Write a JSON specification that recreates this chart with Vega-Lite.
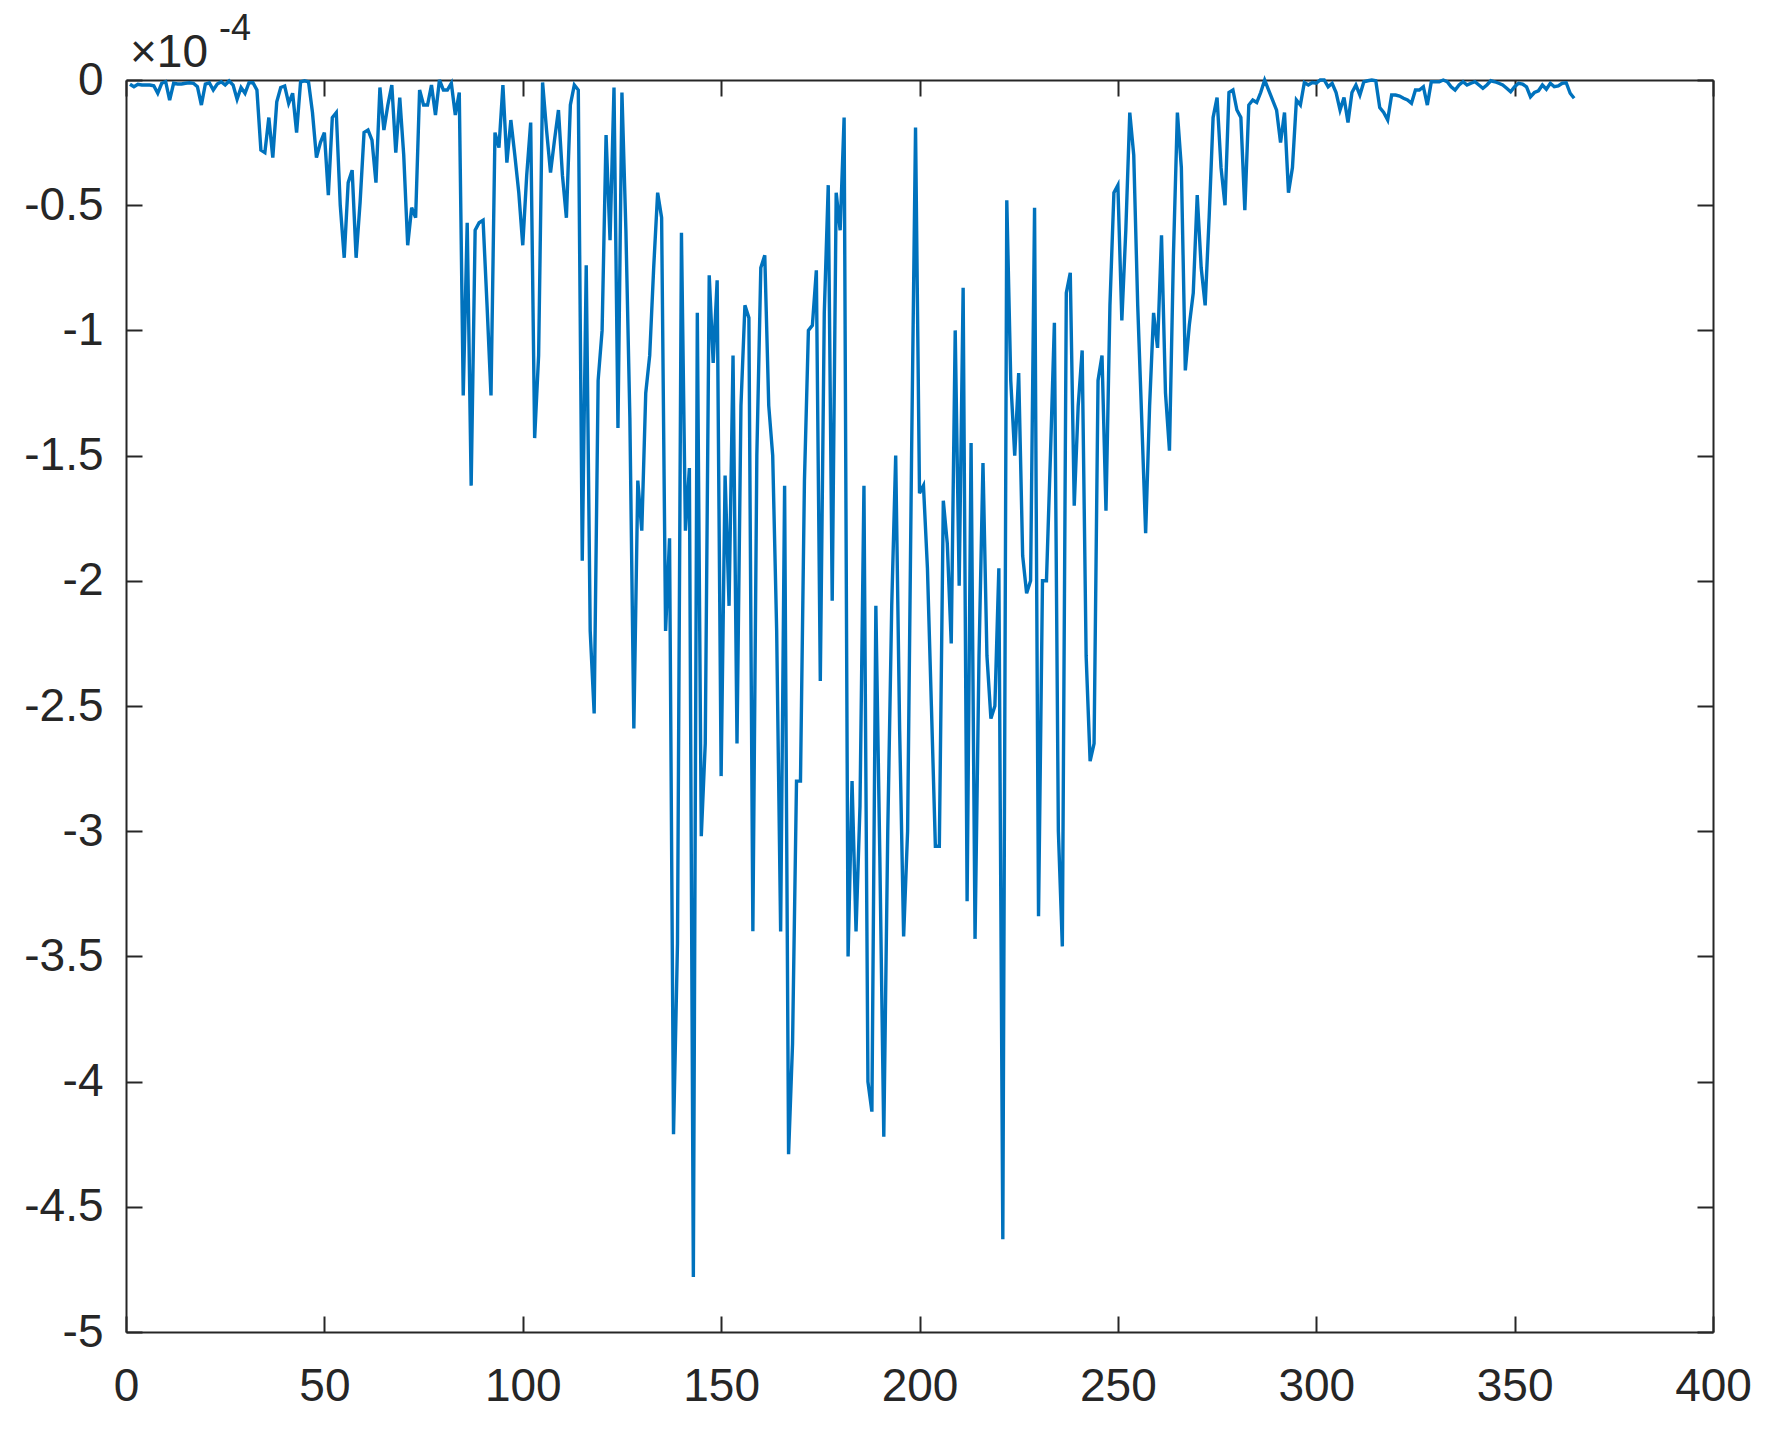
{
  "$schema": "https://vega.github.io/schema/vega-lite/v6.json",
  "width": 1587,
  "height": 1252,
  "autosize": "none",
  "padding": {"left": 126, "top": 80, "right": 61, "bottom": 101},
  "background": "white",
  "config": {
    "view": {"stroke": null},
    "axis": {
      "domainColor": "#262626", "domainWidth": 2,
      "tickColor": "#262626", "tickWidth": 2, "tickSize": -16,
      "labelFont": "Liberation Sans", "labelFontSize": 46, "labelColor": "#262626",
      "labelFlush": false, "labelOverlap": false,
      "labelExpr": "toString(datum.value)",
      "grid": false, "title": null
    }
  },
  "datasets": {
    "series": [
      {"x":1,"y":-0.017},{"x":2,"y":-0.027},{"x":3,"y":-0.017},{"x":4,"y":-0.02},{"x":5,"y":-0.02},
      {"x":6,"y":-0.02},{"x":7,"y":-0.023},{"x":8,"y":-0.053},{"x":9,"y":-0.013},{"x":10,"y":-0.007},
      {"x":11,"y":-0.08},{"x":12,"y":-0.013},{"x":13,"y":-0.016},{"x":14,"y":-0.016},{"x":15,"y":-0.013},
      {"x":16,"y":-0.011},{"x":17,"y":-0.013},{"x":18,"y":-0.027},{"x":19,"y":-0.1},{"x":20,"y":-0.016},
      {"x":21,"y":-0.011},{"x":22,"y":-0.04},{"x":23,"y":-0.016},{"x":24,"y":-0.007},{"x":25,"y":-0.02},
      {"x":26,"y":-0.004},{"x":27,"y":-0.02},{"x":28,"y":-0.077},{"x":29,"y":-0.03},{"x":30,"y":-0.053},
      {"x":31,"y":-0.011},{"x":32,"y":-0.011},{"x":33,"y":-0.04},{"x":34,"y":-0.28},{"x":35,"y":-0.29},
      {"x":36,"y":-0.15},{"x":37,"y":-0.31},{"x":38,"y":-0.087},{"x":39,"y":-0.03},{"x":40,"y":-0.024},
      {"x":41,"y":-0.093},{"x":42,"y":-0.053},{"x":43,"y":-0.21},{"x":44,"y":-0.007},{"x":45,"y":-0.003},
      {"x":46,"y":-0.007},{"x":47,"y":-0.13},{"x":48,"y":-0.31},{"x":49,"y":-0.25},{"x":50,"y":-0.21},
      {"x":51,"y":-0.46},{"x":52,"y":-0.15},{"x":53,"y":-0.13},{"x":54,"y":-0.5},{"x":55,"y":-0.71},
      {"x":56,"y":-0.41},{"x":57,"y":-0.36},{"x":58,"y":-0.71},{"x":59,"y":-0.49},{"x":60,"y":-0.21},
      {"x":61,"y":-0.2},{"x":62,"y":-0.24},{"x":63,"y":-0.41},{"x":64,"y":-0.03},{"x":65,"y":-0.2},
      {"x":66,"y":-0.1},{"x":67,"y":-0.02},{"x":68,"y":-0.29},{"x":69,"y":-0.07},{"x":70,"y":-0.3},
      {"x":71,"y":-0.66},{"x":72,"y":-0.51},{"x":73,"y":-0.55},{"x":74,"y":-0.04},{"x":75,"y":-0.1},
      {"x":76,"y":-0.1},{"x":77,"y":-0.02},{"x":78,"y":-0.14},{"x":79,"y":0},{"x":80,"y":-0.04},
      {"x":81,"y":-0.04},{"x":82,"y":-0.013},{"x":83,"y":-0.14},{"x":84,"y":-0.05},{"x":85,"y":-1.26},
      {"x":86,"y":-0.57},{"x":87,"y":-1.62},{"x":88,"y":-0.6},{"x":89,"y":-0.57},{"x":90,"y":-0.56},
      {"x":91,"y":-0.9},{"x":92,"y":-1.26},{"x":93,"y":-0.21},{"x":94,"y":-0.27},{"x":95,"y":-0.02},
      {"x":96,"y":-0.33},{"x":97,"y":-0.16},{"x":98,"y":-0.3},{"x":99,"y":-0.45},{"x":100,"y":-0.66},
      {"x":101,"y":-0.38},{"x":102,"y":-0.17},{"x":103,"y":-1.43},{"x":104,"y":-1.1},{"x":105,"y":-0.01},
      {"x":106,"y":-0.2},{"x":107,"y":-0.37},{"x":108,"y":-0.24},{"x":109,"y":-0.12},{"x":110,"y":-0.38},
      {"x":111,"y":-0.55},{"x":112,"y":-0.1},{"x":113,"y":-0.02},{"x":114,"y":-0.04},{"x":115,"y":-1.92},
      {"x":116,"y":-0.74},{"x":117,"y":-2.2},{"x":118,"y":-2.53},{"x":119,"y":-1.2},{"x":120,"y":-1.0},
      {"x":121,"y":-0.22},{"x":122,"y":-0.64},{"x":123,"y":-0.03},{"x":124,"y":-1.39},{"x":125,"y":-0.05},
      {"x":126,"y":-0.6},{"x":127,"y":-1.35},{"x":128,"y":-2.59},{"x":129,"y":-1.6},{"x":130,"y":-1.8},
      {"x":131,"y":-1.25},{"x":132,"y":-1.1},{"x":133,"y":-0.75},{"x":134,"y":-0.45},{"x":135,"y":-0.55},
      {"x":136,"y":-2.2},{"x":137,"y":-1.83},{"x":138,"y":-4.21},{"x":139,"y":-3.45},{"x":140,"y":-0.61},
      {"x":141,"y":-1.8},{"x":142,"y":-1.55},{"x":143,"y":-4.78},{"x":144,"y":-0.93},{"x":145,"y":-3.02},
      {"x":146,"y":-2.65},{"x":147,"y":-0.78},{"x":148,"y":-1.13},{"x":149,"y":-0.8},{"x":150,"y":-2.78},
      {"x":151,"y":-1.58},{"x":152,"y":-2.1},{"x":153,"y":-1.1},{"x":154,"y":-2.65},{"x":155,"y":-1.3},
      {"x":156,"y":-0.9},{"x":157,"y":-0.95},{"x":158,"y":-3.4},{"x":159,"y":-1.5},{"x":160,"y":-0.75},
      {"x":161,"y":-0.7},{"x":162,"y":-1.3},{"x":163,"y":-1.5},{"x":164,"y":-2.2},{"x":165,"y":-3.4},
      {"x":166,"y":-1.62},{"x":167,"y":-4.29},{"x":168,"y":-3.85},{"x":169,"y":-2.8},{"x":170,"y":-2.8},
      {"x":171,"y":-1.6},{"x":172,"y":-1.0},{"x":173,"y":-0.98},{"x":174,"y":-0.76},{"x":175,"y":-2.4},
      {"x":176,"y":-0.93},{"x":177,"y":-0.42},{"x":178,"y":-2.08},{"x":179,"y":-0.45},{"x":180,"y":-0.6},
      {"x":181,"y":-0.15},{"x":182,"y":-3.5},{"x":183,"y":-2.8},{"x":184,"y":-3.4},{"x":185,"y":-2.9},
      {"x":186,"y":-1.62},{"x":187,"y":-4.0},{"x":188,"y":-4.12},{"x":189,"y":-2.1},{"x":190,"y":-3.1},
      {"x":191,"y":-4.22},{"x":192,"y":-3.0},{"x":193,"y":-2.1},{"x":194,"y":-1.5},{"x":195,"y":-2.6},
      {"x":196,"y":-3.42},{"x":197,"y":-3.0},{"x":198,"y":-1.5},{"x":199,"y":-0.19},{"x":200,"y":-1.65},
      {"x":201,"y":-1.62},{"x":202,"y":-1.95},{"x":203,"y":-2.5},{"x":204,"y":-3.06},{"x":205,"y":-3.06},
      {"x":206,"y":-1.68},{"x":207,"y":-1.85},{"x":208,"y":-2.25},{"x":209,"y":-1.0},{"x":210,"y":-2.02},
      {"x":211,"y":-0.83},{"x":212,"y":-3.28},{"x":213,"y":-1.45},{"x":214,"y":-3.43},{"x":215,"y":-2.3},
      {"x":216,"y":-1.53},{"x":217,"y":-2.3},{"x":218,"y":-2.55},{"x":219,"y":-2.5},{"x":220,"y":-1.95},
      {"x":221,"y":-4.63},{"x":222,"y":-0.48},{"x":223,"y":-1.2},{"x":224,"y":-1.5},{"x":225,"y":-1.17},
      {"x":226,"y":-1.9},{"x":227,"y":-2.05},{"x":228,"y":-2.0},{"x":229,"y":-0.51},{"x":230,"y":-3.34},
      {"x":231,"y":-2.0},{"x":232,"y":-2.0},{"x":233,"y":-1.5},{"x":234,"y":-0.97},{"x":235,"y":-3.0},
      {"x":236,"y":-3.46},{"x":237,"y":-0.85},{"x":238,"y":-0.77},{"x":239,"y":-1.7},{"x":240,"y":-1.3},
      {"x":241,"y":-1.08},{"x":242,"y":-2.3},{"x":243,"y":-2.72},{"x":244,"y":-2.65},{"x":245,"y":-1.2},
      {"x":246,"y":-1.1},{"x":247,"y":-1.72},{"x":248,"y":-0.9},{"x":249,"y":-0.45},{"x":250,"y":-0.42},
      {"x":251,"y":-0.96},{"x":252,"y":-0.6},{"x":253,"y":-0.13},{"x":254,"y":-0.3},{"x":255,"y":-0.9},
      {"x":256,"y":-1.35},{"x":257,"y":-1.81},{"x":258,"y":-1.3},{"x":259,"y":-0.93},{"x":260,"y":-1.07},
      {"x":261,"y":-0.62},{"x":262,"y":-1.25},{"x":263,"y":-1.48},{"x":264,"y":-0.7},{"x":265,"y":-0.13},
      {"x":266,"y":-0.35},{"x":267,"y":-1.16},{"x":268,"y":-0.98},{"x":269,"y":-0.85},{"x":270,"y":-0.46},
      {"x":271,"y":-0.75},{"x":272,"y":-0.9},{"x":273,"y":-0.55},{"x":274,"y":-0.15},{"x":275,"y":-0.07},
      {"x":276,"y":-0.35},{"x":277,"y":-0.5},{"x":278,"y":-0.05},{"x":279,"y":-0.04},{"x":280,"y":-0.12},
      {"x":281,"y":-0.15},{"x":282,"y":-0.52},{"x":283,"y":-0.1},{"x":284,"y":-0.08},{"x":285,"y":-0.09},
      {"x":286,"y":-0.05},{"x":287,"y":0},{"x":288,"y":-0.04},{"x":289,"y":-0.08},{"x":290,"y":-0.12},
      {"x":291,"y":-0.25},{"x":292,"y":-0.13},{"x":293,"y":-0.45},{"x":294,"y":-0.35},{"x":295,"y":-0.08},
      {"x":296,"y":-0.1},{"x":297,"y":-0.01},{"x":298,"y":-0.02},{"x":299,"y":-0.01},{"x":300,"y":-0.013},
      {"x":301,"y":0},{"x":302,"y":0},{"x":303,"y":-0.027},{"x":304,"y":-0.013},{"x":305,"y":-0.05},
      {"x":306,"y":-0.12},{"x":307,"y":-0.07},{"x":308,"y":-0.17},{"x":309,"y":-0.05},{"x":310,"y":-0.02},
      {"x":311,"y":-0.06},{"x":312,"y":-0.007},{"x":313,"y":-0.003},{"x":314,"y":0},{"x":315,"y":-0.003},
      {"x":316,"y":-0.11},{"x":317,"y":-0.13},{"x":318,"y":-0.16},{"x":319,"y":-0.06},{"x":320,"y":-0.06},
      {"x":321,"y":-0.064},{"x":322,"y":-0.073},{"x":323,"y":-0.08},{"x":324,"y":-0.093},{"x":325,"y":-0.04},
      {"x":326,"y":-0.04},{"x":327,"y":-0.027},{"x":328,"y":-0.1},{"x":329,"y":-0.007},{"x":330,"y":-0.007},
      {"x":331,"y":-0.007},{"x":332,"y":0},{"x":333,"y":-0.007},{"x":334,"y":-0.027},{"x":335,"y":-0.04},
      {"x":336,"y":-0.02},{"x":337,"y":-0.007},{"x":338,"y":-0.02},{"x":339,"y":-0.013},{"x":340,"y":-0.007},
      {"x":341,"y":-0.02},{"x":342,"y":-0.033},{"x":343,"y":-0.02},{"x":344,"y":-0.003},{"x":345,"y":-0.007},
      {"x":346,"y":-0.013},{"x":347,"y":-0.02},{"x":348,"y":-0.033},{"x":349,"y":-0.047},{"x":350,"y":-0.027},
      {"x":351,"y":-0.013},{"x":352,"y":-0.016},{"x":353,"y":-0.027},{"x":354,"y":-0.067},{"x":355,"y":-0.05},
      {"x":356,"y":-0.043},{"x":357,"y":-0.02},{"x":358,"y":-0.037},{"x":359,"y":-0.013},{"x":360,"y":-0.027},
      {"x":361,"y":-0.024},{"x":362,"y":-0.013},{"x":363,"y":-0.011},{"x":364,"y":-0.053},{"x":365,"y":-0.073}
    ],
    "note": [{"base": "×10", "exp": "-4"}]
  },
  "layer": [
    {
      "data": {"name": "series"},
      "mark": {"type": "line", "color": "#0072BD", "strokeWidth": 3.4},
      "encoding": {
        "x": {"field": "x", "type": "quantitative",
              "scale": {"domain": [0, 400], "nice": false, "zero": false},
              "axis": {"orient": "bottom", "values": [0,50,100,150,200,250,300,350,400], "labelPadding": 48}},
        "y": {"field": "y", "type": "quantitative",
              "scale": {"domain": [-5, 0], "nice": false, "zero": false},
              "axis": {"orient": "left", "values": [-5,-4.5,-4,-3.5,-3,-2.5,-2,-1.5,-1,-0.5,0], "labelPadding": 39}}
      }
    },
    {
      "data": {"name": "series"},
      "mark": {"type": "line", "strokeOpacity": 0},
      "encoding": {
        "x": {"field": "x", "type": "quantitative",
              "axis": {"orient": "top", "values": [0,50,100,150,200,250,300,350,400], "labels": false}},
        "y": {"field": "y", "type": "quantitative",
              "axis": {"orient": "right", "values": [-5,-4.5,-4,-3.5,-3,-2.5,-2,-1.5,-1,-0.5,0], "labels": false}}
      }
    },
    {
      "data": {"name": "note"},
      "mark": {"type": "text", "align": "left", "baseline": "alphabetic", "dx": 4, "dy": -13,
               "font": "Liberation Sans", "fontSize": 46, "color": "#262626"},
      "encoding": {
        "x": {"datum": 0, "type": "quantitative", "axis": null},
        "y": {"datum": 0, "type": "quantitative", "axis": null},
        "text": {"field": "base"}
      }
    },
    {
      "data": {"name": "note"},
      "mark": {"type": "text", "align": "left", "baseline": "alphabetic", "dx": 93, "dy": -40,
               "font": "Liberation Sans", "fontSize": 36, "color": "#262626"},
      "encoding": {
        "x": {"datum": 0, "type": "quantitative", "axis": null},
        "y": {"datum": 0, "type": "quantitative", "axis": null},
        "text": {"field": "exp"}
      }
    }
  ],
  "resolve": {"axis": {"x": "independent", "y": "independent"}}
}
